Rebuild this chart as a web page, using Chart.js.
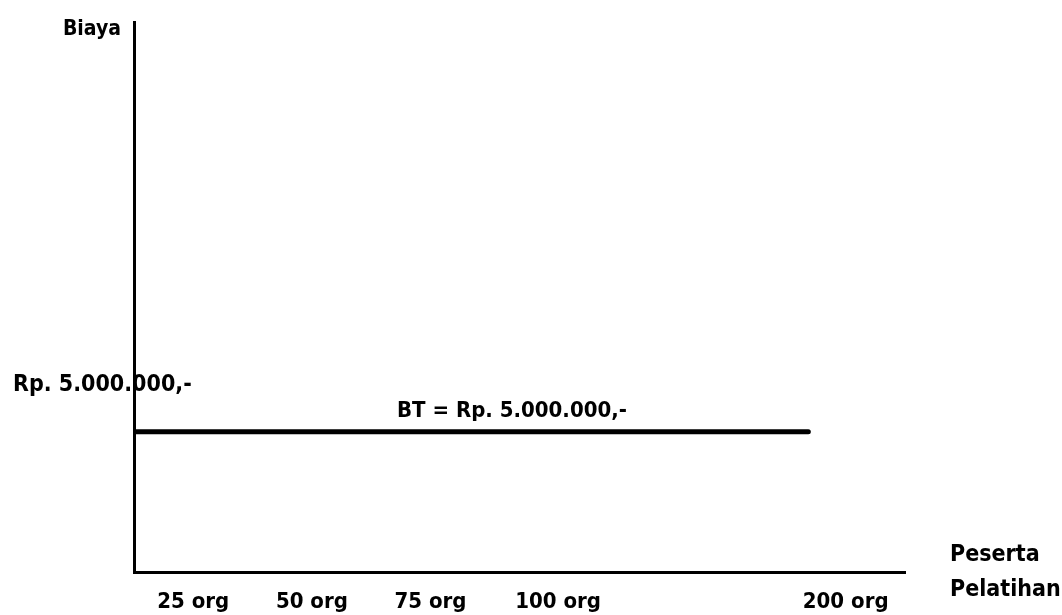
<!DOCTYPE html>
<html lang="id">
<head>
    <meta charset="UTF-8">
    <title>Biaya Tetap</title>
    <script src="https://cdn.jsdelivr.net/npm/chart.js"></script>
    <style>
        body {
            margin: 0;
            background-color: white;
        }
        #chart-container {
            width: 1062px;
            height: 615px;
        }
    </style>
</head>
<body>
    <div id="chart-container">
        <canvas id="btChart" width="1062" height="615"></canvas>
    </div>

    <script>
        // data
        const pesertaLabels = ['25 org', '50 org', '75 org', '100 org', '200 org'];
        const pesertaSlots = [1, 3, 5, 7.15, 12];   // schematic (non-proportional) axis slots
        const biayaTetap = 5000000;
        const btRange = [0, 11.37];                 // where the BT line starts / stops on the x axis
        const yLabel = 'Biaya';
        const xLabel = ['Peserta', 'Pelatihan'];
        const btText = 'BT = Rp. 5.000.000,-';
        const rpText = 'Rp. 5.000.000,-';

        const FONT = '"DejaVu Sans Condensed", "DejaVu Sans", sans-serif';

        const textPlugin = {
            id: 'textPlugin',
            afterDraw(chart) {
                const ctx = chart.ctx;
                const area = chart.chartArea;
                const yBT = chart.scales.y.getPixelForValue(biayaTetap);
                ctx.save();
                ctx.fillStyle = '#000';
                ctx.textBaseline = 'alphabetic';

                ctx.font = 'bold 21px ' + FONT;
                ctx.textAlign = 'right';
                ctx.fillText(yLabel, area.left - 13, area.top + 13);

                ctx.textAlign = 'left';
                ctx.font = 'bold 23px ' + FONT;
                ctx.fillText(rpText, 13, yBT - 41);

                ctx.font = 'bold 22px ' + FONT;
                ctx.fillText(btText, 397, yBT - 15);

                ctx.font = 'bold 23px ' + FONT;
                ctx.fillText(xLabel[0], area.right + 45, area.bottom - 11);
                ctx.fillText(xLabel[1], area.right + 45, area.bottom + 24);
                ctx.restore();
            }
        };

        const ctx = document.getElementById('btChart').getContext('2d');
        const btChart = new Chart(ctx, {
            type: 'line',
            data: {
                datasets: [{
                    label: btText,
                    data: btRange.map(x => ({ x: x, y: biayaTetap })),
                    borderColor: '#000',
                    borderWidth: 5,
                    borderCapStyle: 'round',
                    pointRadius: 0,
                    tension: 0
                }]
            },
            options: {
                responsive: false,
                animation: false,
                devicePixelRatio: 1,
                layout: {
                    padding: { top: 22, right: 157, left: 0, bottom: 0 }
                },
                plugins: {
                    legend: { display: false },
                    tooltip: { enabled: false }
                },
                scales: {
                    x: {
                        type: 'linear',
                        min: 0,
                        max: 13,
                        grid: { display: false, drawTicks: false },
                        border: { display: true, color: '#000', width: 3 },
                        afterBuildTicks: (scale) => {
                            scale.ticks = pesertaSlots.map(v => ({ value: v }));
                        },
                        afterFit: (scale) => { scale.height = 43; },
                        ticks: {
                            autoSkip: false,
                            maxRotation: 0,
                            padding: 17,
                            color: '#000',
                            font: { family: FONT, size: 22, weight: 'bold' },
                            callback: (value, i) => pesertaLabels[i]
                        }
                    },
                    y: {
                        min: 0,
                        max: 19600000,
                        grid: { display: false, drawTicks: false },
                        border: { display: true, color: '#000', width: 3 },
                        ticks: { display: false },
                        afterFit: (scale) => { scale.width = 134; }
                    }
                }
            },
            plugins: [textPlugin]
        });
    </script>
</body>
</html>
